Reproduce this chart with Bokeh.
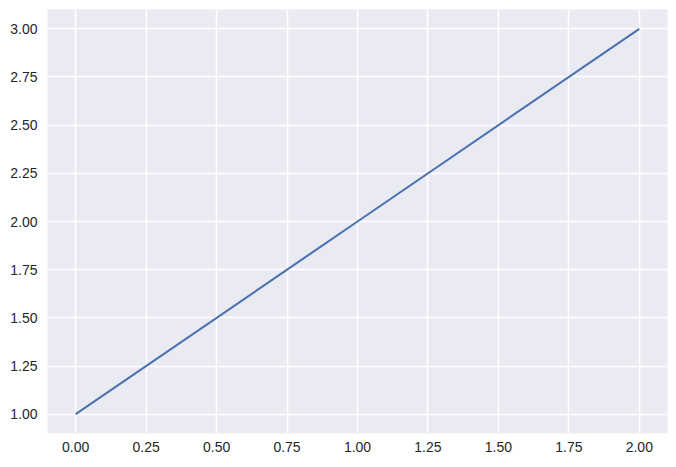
from bokeh.plotting import figure
from bokeh.models import FixedTicker, NumeralTickFormatter, Range1d
from bokeh.embed import file_html
from bokeh.resources import INLINE

x_values = [0, 1, 2]
y_values = [1, 2, 3]
x_ticks = [0.0, 0.25, 0.5, 0.75, 1.0, 1.25, 1.5, 1.75, 2.0]
y_ticks = [1.0, 1.25, 1.5, 1.75, 2.0, 2.25, 2.5, 2.75, 3.0]

p = figure(width=668, height=459, output_backend="svg", toolbar_location=None,
           x_range=Range1d(-0.1, 2.1), y_range=Range1d(0.9, 3.1),
           min_border_left=47, min_border_right=1, min_border_top=9, min_border_bottom=26)
p.background_fill_color = "#EAEAF2"
p.border_fill_color = "white"
p.outline_line_color = None

p.line(x_values, y_values, line_color="#4C72B0", line_width=2.1)

for ax, ticks in ((p.xaxis, x_ticks), (p.yaxis, y_ticks)):
    ax.ticker = FixedTicker(ticks=ticks)
    ax.formatter = NumeralTickFormatter(format="0.00")
    ax.axis_line_color = None
    ax.major_tick_line_color = None
    ax.minor_tick_line_color = None
    ax.major_tick_out = 0
    ax.minor_tick_out = 0
    ax.major_tick_in = 0
    ax.minor_tick_in = 0
    ax.major_label_text_font = "Liberation Sans"
    ax.major_label_text_font_size = "14px"
    ax.major_label_text_color = "#262626"
p.xaxis.major_label_standoff = 8
p.yaxis.major_label_standoff = 10

p.xgrid.ticker = FixedTicker(ticks=x_ticks)
p.ygrid.ticker = FixedTicker(ticks=y_ticks)
for g in (p.xgrid, p.ygrid):
    g.grid_line_color = "white"
    g.grid_line_width = 1.5

open("out.html", "w").write(file_html(p, INLINE))
